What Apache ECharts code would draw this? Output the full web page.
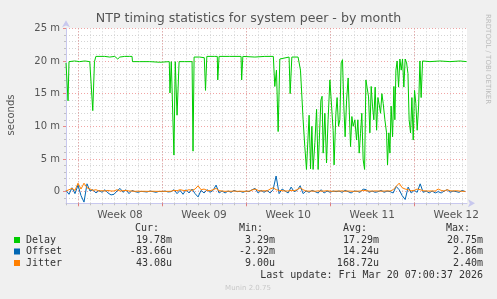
<!DOCTYPE html>
<html lang="en">
<head>
<meta charset="UTF-8">
<title>NTP timing statistics for system peer - by month</title>
<script src="https://cdn.jsdelivr.net/npm/echarts@6/dist/echarts.min.js"></script>
<style>
  html, body { margin: 0; padding: 0; background: #f0f0f0; }
  #chart { width: 497px; height: 299px; }
</style>
</head>
<body>
<div id="chart"></div>
<script>
// x values are days counted from Monday 16 Feb (start of week 08)
const weekStarts = [0, 7, 14, 21, 28];
const weekMids = [3.5, 10.5, 17.5, 24.5, 31.5];
const weekLabels = ['Week 08', 'Week 09', 'Week 10', 'Week 11', 'Week 12'];
const dayLines = [-1, 0, 1, 2, 3, 4, 5, 6, 7, 8, 9, 10, 11, 12, 13, 14, 15, 16, 17, 18, 19, 20,
    21, 22, 23, 24, 25, 26, 27, 28, 29, 30, 31, 32];
const yMinor = [-1, 1, 2, 3, 4, 6, 7, 8, 9, 11, 12, 13, 14, 16, 17, 18, 19, 21, 22, 23, 24];
const yMajor = [0, 5, 10, 15, 20, 25];

// Delay (ms) - irregular samples
const delayDays = [-1.00, -0.83, -0.75, -0.28, 0.14, 0.56, 0.98, 1.14, 1.23, 1.37, 1.43, 1.49,
    2.23, 2.64, 3.06, 3.31, 3.48, 3.89, 4.31, 4.50, 4.54, 5.14, 5.98, 6.81, 7.60, 7.66, 7.77,
    7.89, 7.99, 8.10, 8.17, 8.25, 8.42, 8.89, 9.50, 9.58, 9.67, 10.14, 10.52, 10.62, 10.73,
    11.39, 11.60, 11.64, 11.75, 12.64, 13.58, 13.63, 13.73, 14.73, 15.56, 16.27, 16.39, 16.53,
    16.67, 16.81, 16.95, 17.58, 17.67, 17.81, 18.33, 18.53, 18.75, 18.89, 19.03, 19.17, 19.25,
    19.37, 19.48, 19.58, 19.73, 19.87, 20.00, 20.14, 20.23, 20.33, 20.42, 20.56, 20.70, 20.83,
    20.98, 21.12, 21.25, 21.33, 21.48, 21.58, 21.70, 21.81, 21.92, 22.03, 22.14, 22.25, 22.37,
    22.50, 22.58, 22.70, 22.81, 22.92, 23.06, 23.20, 23.31, 23.42, 23.53, 23.64, 23.75, 23.87,
    23.98, 24.08, 24.20, 24.31, 24.42, 24.53, 24.64, 24.75, 24.87, 24.98, 25.08, 25.20, 25.31,
    25.42, 25.56, 25.70, 25.78, 25.89, 25.98, 26.08, 26.20, 26.31, 26.39, 26.48, 26.58, 26.70,
    26.81, 26.92, 27.03, 27.14, 27.25, 27.37, 27.48, 27.58, 27.70, 27.81, 27.92, 28.03, 28.14,
    28.25, 28.37, 28.48, 28.58, 28.70, 29.31, 30.14, 30.98, 31.81, 32.37];
const delayMs = [19.7, 13.9, 19.9, 20.0, 19.9, 20.0, 19.9, 19.9, 12.4, 19.9, 19.9, 20.7,
    20.7, 20.6, 20.7, 20.3, 20.6, 20.7, 20.7, 20.7, 19.9, 19.9, 19.9, 19.8, 19.9, 15.1, 19.9,
    19.9, 5.6, 19.9, 19.9, 11.7, 19.9, 19.9, 19.9, 6.2, 20.6, 20.6, 20.5, 15.5, 20.7,
    20.7, 20.7, 17.1, 20.7, 20.7, 20.7, 17.1, 20.7, 20.6, 20.7, 20.7, 16.1, 18.6,
    9.2, 20.3, 20.6, 20.6, 15.0, 20.6, 20.6, 18.6, 11.0, 6.9, 3.4, 3.4, 11.7,
    3.5, 10.0, 3.4, 7.5, 12.6, 3.4, 3.4, 14.0, 14.6, 5.9, 12.0, 4.4, 11.0,
    17.1, 13.1, 9.4, 4.1, 12.0, 14.4, 10.0, 11.0, 19.7, 20.2, 13.1, 8.4, 14.0,
    17.4, 13.1, 6.9, 11.5, 10.0, 11.0, 7.9, 11.0, 5.9, 8.9, 12.0, 4.9, 3.4,
    17.1, 17.4, 14.5, 9.0, 16.1, 13.1, 11.0, 16.0, 9.4, 14.4, 13.4, 12.0, 15.0,
    13.5, 11.0, 9.0, 4.1, 9.0, 5.9, 13.1, 8.4, 16.1, 11.0, 18.6, 20.0, 16.0,
    20.3, 18.6, 20.3, 16.0, 20.3, 19.7, 18.1, 11.0, 9.0, 14.4, 7.9, 15.5, 13.5,
    9.4, 13.1, 20.0, 14.4, 20.0, 19.9, 20.0, 19.9, 20.0, 19.9];

// Offset and Jitter (ms) - one sample every 6 hours from day -1
const noiseStartDay = -1;
const noiseStepDay = 0.25;
const offsetMs = [0.2, -0.4, 0.6, -0.3, 1.0, -0.6, -1.6, 1.2, 0.1, 0.3,
    -0.2, 0.2, -0.1, 0.3, -0.2, -0.5, -0.4, 0.1, 0.5, -0.1,
    0.3, -0.3, 0.2, 0, -0.1, 0.05, 0, -0.05, 0.1, 0,
    -0.1, 0.05, 0, 0.1, -0.05, 0, 0.3, -0.3, 0.2, -0.4,
    0.3, -0.2, 0.4, -0.3, -0.8, 0.2, -0.2, 0.3, -0.1, 0.2,
    1.0, -0.2, 0.1, -0.2, 0.1, -0.1, 0.2, 0, 0.05, -0.1,
    0.1, 0, 0.3, 0.5, -0.2, 0.2, -0.1, 0.2, -0.2, 0.3,
    2.4, -0.3, 0.4, 0.1, -0.2, 0.7, 0, 0.2, 0.9, -0.3,
    0.1, -0.1, 0.2, 0, -0.2, 0.3, -0.2, 0.1, -0.1, 0.1,
    0, 0.1, -0.1, 0.2, 0, -0.2, 0.1, 0.05, -0.1, 0.4,
    0.3, -0.1, 0.1, -0.1, 0, 0.2, -0.1, 0.1, 0, -0.2,
    0.8, 0.3, -0.6, -1.2, 0.7, -0.2, 0.2, -0.1, 1.2, -0.1,
    0.1, -0.2, 0.1, -0.2, 0, -0.2, 0.1, 0.3, -0.1, 0.1,
    0, -0.1, 0.2, 0];
const jitterMs = [0.1, 0.3, 0.5, 0.2, 1.3, 0.4, 1.3, 0.6, 0.4, 0.2, 0.3, 0.1, 0.15, 0.1, 0.2,
    0.1, 0.1, 0.3, 0.1, 0.15, 0.2, 0.1, 0.1,
    0.05, 0.08, 0.05, 0.06, 0.05, 0.05, 0.07, 0.05, 0.05, 0.06, 0.05, 0.05, 0.06,
    0.2, 0.15, 0.3, 0.2, 0.15, 0.3, 0.2, 0.4, 0.9, 0.3, 0.4, 0.2, 0.15, 0.3, 0.5, 0.15, 0.1,
    0.05, 0.08, 0.06, 0.1, 0.05, 0.07, 0.05, 0.06, 0.08,
    0.25, 0.4, 0.2, 0.1, 0.15, 0.1, 0.4, 0.6, 0.3, 0.2, 0.15, 0.1, 0.1, 0.2, 0.15, 0.3, 0.6, 0.3, 0.1,
    0.08, 0.1, 0.06, 0.12, 0.08, 0.1, 0.15, 0.08, 0.06, 0.1, 0.08, 0.12, 0.06, 0.1, 0.08, 0.05, 0.07, 0.1,
    0.2, 0.15, 0.1, 0.08, 0.12, 0.1, 0.08, 0.1, 0.12, 0.1,
    0.3, 0.8, 1.3, 0.6, 0.4, 0.3, 0.15, 0.2, 0.4, 0.3, 0.15, 0.1, 0.1, 0.1, 0.1, 0.4, 0.2, 0.1,
    0.3, 0.15, 0.1, 0.15, 0.1, 0.05, 0.05];

// legend table
const legendNames = ['Delay', 'Offset', 'Jitter'];
const legendColors = ['#00cc00', '#0066b3', '#ff8000'];
const curVals = ['19.78m', '-83.66u', '43.08u'];
const minVals = ['3.29m', '-2.92m', '9.00u'];
const avgVals = ['17.29m', '14.24u', '168.72u'];
const maxVals = ['20.75m', '2.86m', '2.40m'];
const lastUpdate = 'Last update: Fri Mar 20 07:00:37 2026';

const xMin = -1, xMax = 32.4;
const yMin = -1.78, yMax = 25;

const pair = (xs, ys) => xs.map((x, i) => [x, ys[i]]);
const noiseDays = offsetMs.map((_, i) => noiseStartDay + i * noiseStepDay);

const font = 'DejaVu Sans';
const mono = 'DejaVu Sans Mono';
const axisColor = '#c8c8ee';
const minorGrid = { color: '#d4d4d4', width: 1, type: [1, 2] };
const majorGrid = { color: 'rgba(230,90,90,0.55)', width: 1, type: [1, 2] };

const chart = echarts.init(document.getElementById('chart'), null, { renderer: 'canvas' });

// legend table as text
const graphics = [];
const colEnds = [172, 275, 379, 483];
const headEnds = [159, 263, 367, 470];
['Cur:', 'Min:', 'Avg:', 'Max:'].forEach((h, i) => {
    graphics.push({ type: 'text', x: headEnds[i], y: 228.5,
        style: { text: h, font: '10px ' + mono, fill: '#333', textAlign: 'right', textVerticalAlign: 'middle' } });
});
const rowsY = [240, 251.5, 263];
legendNames.forEach((name, r) => {
    graphics.push({ type: 'rect', shape: { x: 14, y: rowsY[r] - 3, width: 6, height: 6 },
        style: { fill: legendColors[r] } });
    graphics.push({ type: 'text', x: 26, y: rowsY[r],
        style: { text: name, font: '10px ' + mono, fill: '#333', textVerticalAlign: 'middle' } });
    [curVals, minVals, avgVals, maxVals].forEach((col, c) => {
        graphics.push({ type: 'text', x: colEnds[c], y: rowsY[r],
            style: { text: col[r], font: '10px ' + mono, fill: '#333', textAlign: 'right', textVerticalAlign: 'middle' } });
    });
});
graphics.push({ type: 'text', x: 483, y: 275.5,
    style: { text: lastUpdate, font: '10px ' + mono, fill: '#333', textAlign: 'right', textVerticalAlign: 'middle' } });
graphics.push({ type: 'text', x: 248, y: 288,
    style: { text: 'Munin 2.0.75', font: '7px ' + font, fill: '#c8c8c8', textAlign: 'center', textVerticalAlign: 'middle' } });
graphics.push({ type: 'text', x: 11, y: 115, rotation: Math.PI / 2,
    style: { text: 'seconds', font: '10px ' + font, fill: '#555', textAlign: 'center', textVerticalAlign: 'middle' } });
graphics.push({ type: 'text', x: 488, y: 14, rotation: -Math.PI / 2,
    style: { text: 'RRDTOOL / TOBI OETIKER', font: '7px ' + font, fill: '#bbbbbb', textAlign: 'left', textVerticalAlign: 'middle' } });

const option = {
    animation: false,
    backgroundColor: '#f0f0f0',
    title: {
        text: 'NTP timing statistics for system peer - by month',
        left: 'center', top: 12, padding: 0,
        textStyle: { fontFamily: font, fontSize: 12.6, fontWeight: 'normal', color: '#555' }
    },
    grid: { left: 66, right: 30, top: 28.3, bottom: 95.7, show: true, backgroundColor: '#ffffff', borderWidth: 0 },
    xAxis: [{
        type: 'value', min: xMin, max: xMax,
        axisLine: { show: true, onZero: false, lineStyle: { color: axisColor }, symbol: ['none', 'arrow'], symbolSize: [6, 7], symbolOffset: [0, 8] },
        axisTick: { show: true, customValues: dayLines, length: 2, lineStyle: { color: '#c0c0c0' } },
        axisLabel: { show: false },
        splitLine: { show: true, lineStyle: minorGrid }
    }, {
        type: 'value', min: xMin, max: xMax, position: 'bottom',
        axisLine: { show: false, onZero: false },
        axisTick: { show: true, customValues: weekStarts, length: 3, lineStyle: { color: 'rgba(230,90,90,0.7)' } },
        axisLabel: {
            show: true, customValues: weekMids, margin: 6,
            formatter: v => weekLabels[weekMids.indexOf(v)] || '',
            fontFamily: font, fontSize: 10.5, color: '#555'
        },
        splitLine: { show: true, lineStyle: majorGrid }
    }],
    yAxis: [{
        type: 'value', min: yMin, max: yMax,
        axisLine: { show: true, onZero: false, lineStyle: { color: axisColor }, symbol: ['none', 'arrow'], symbolSize: [6, 7], symbolOffset: [0, 8] },
        axisTick: { show: true, customValues: yMinor, length: 2, lineStyle: { color: '#c0c0c0' } },
        axisLabel: { show: false },
        splitLine: { show: true, lineStyle: minorGrid }
    }, {
        type: 'value', min: yMin, max: yMax, position: 'left',
        axisLine: { show: false, onZero: false },
        axisTick: { show: true, customValues: yMajor, length: 3, lineStyle: { color: 'rgba(230,90,90,0.7)' } },
        axisLabel: {
            show: true, customValues: yMajor, margin: 6,
            formatter: v => (v === 0 ? '0' : v + ' m'),
            fontFamily: font, fontSize: 10, color: '#555'
        },
        splitLine: { show: true, lineStyle: majorGrid }
    }],
    series: [{
        name: 'Delay', type: 'line', xAxisIndex: 0, yAxisIndex: 0,
        data: pair(delayDays, delayMs), showSymbol: false,
        lineStyle: { color: legendColors[0], width: 1 }, z: 3
    }, {
        name: 'Offset', type: 'line', xAxisIndex: 0, yAxisIndex: 0,
        data: pair(noiseDays, offsetMs), showSymbol: false,
        lineStyle: { color: legendColors[1], width: 1 }, z: 4
    }, {
        name: 'Jitter', type: 'line', xAxisIndex: 0, yAxisIndex: 0,
        data: pair(noiseDays, jitterMs), showSymbol: false,
        lineStyle: { color: legendColors[2], width: 1 }, z: 5
    }],
    graphic: graphics
};

chart.setOption(option);
</script>
</body>
</html>
